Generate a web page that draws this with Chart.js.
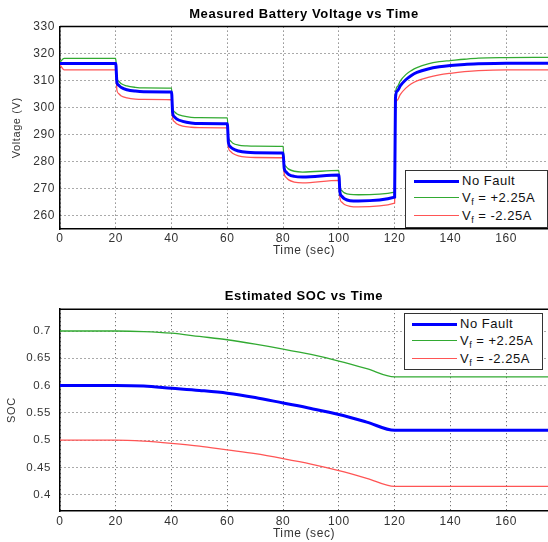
<!DOCTYPE html>
<html>
<head>
<meta charset="utf-8">
<script src="https://cdn.jsdelivr.net/npm/chart.js@4.4.0/dist/chart.umd.min.js"></script>
<style>
  body { margin: 0; background: #fff; width: 548px; height: 542px; overflow: hidden; position: relative;
         font-family: "Liberation Sans", Arial, sans-serif; }
  .plot { position: absolute; left: 0; width: 548px; height: 262px; }
  .legend { position: absolute; background: #fff; border: 1px solid #333; box-sizing: border-box;
            font-size: 13px; color: #111; letter-spacing: 0.5px; }
  .legend .row { position: absolute; left: 0; right: 0; height: 16px; }
  .legend .smp { position: absolute; top: 8px; width: 45px; height: 0; }
  .legend .txt { position: absolute; top: 0; line-height: 16px; white-space: nowrap; }
  .legend sub { font-size: 9px; vertical-align: -3px; line-height: 0; }
</style>
</head>
<body>
<div class="plot" style="top:0"><canvas id="volt" width="548" height="262"></canvas></div>
<div class="plot" style="top:280px"><canvas id="soc" width="548" height="262"></canvas></div>
<div class="legend" id="leg1" style="left:405px;top:170px;width:143px;height:58px"></div>
<div class="legend" id="leg2" style="left:404px;top:313px;width:139px;height:57px"></div>
<script>
// ---- data ----
const seriesNames = ['No Fault', 'V_f = +2.25A', 'V_f = -2.25A'];
const seriesColors = ['#0000ff', 'rgb(50,170,50)', 'rgb(255,85,85)'];
const seriesWidths = [3, 1.3, 1.3];

const timeTicks = [0, 20, 40, 60, 80, 100, 120, 140, 160];
const timeTickLabels = ['0', '20', '40', '60', '80', '100', '120', '140', '160'];
const voltTicks = [260, 270, 280, 290, 300, 310, 320, 330];
const voltTickLabels = ['260', '270', '280', '290', '300', '310', '320', '330'];
const socTicks = [0.4, 0.45, 0.5, 0.55, 0.6, 0.65, 0.7];
const socTickLabels = ['0.4', '0.45', '0.5', '0.55', '0.6', '0.65', '0.7'];

// measured voltage (V)
const voltTime = [0, 1.5, 20, 20.4, 21, 22, 24, 27, 30, 40, 40.4, 41, 42, 44, 47, 50, 60, 60.4, 61, 62, 64, 67, 70,
  80, 80.4, 81, 82, 84, 87, 100, 100.4, 101, 102, 104, 107, 120, 120.3, 121, 122, 124, 126, 128, 132, 136, 140,
  145, 150, 160, 175];
const voltNoFault = [316.3, 316.3, 316.3, 309.5, 308.3, 307.4, 306.6, 306.1, 305.9, 305.8, 298.0, 296.6, 295.7,
  294.9, 294.3, 294.1, 294.0, 287.0, 285.6, 284.7, 283.9, 283.4, 283.3, 283.2, 277.5, 276.2, 275.2, 274.5, 274.3,
  275.0, 268.5, 267.2, 266.2, 265.5, 265.4, 266.8, 303.5, 306.2, 308.0, 310.3, 311.9, 313.0, 314.3, 315.1, 315.6,
  316.0, 316.2, 316.4, 316.4];
const voltPlus = [316.8, 318.2, 318.2, 311.0, 309.8, 308.8, 308.0, 307.5, 307.3, 307.2, 299.8, 298.5, 297.6,
  296.9, 296.4, 296.3, 296.2, 289.0, 287.8, 286.8, 286.1, 285.8, 285.7, 285.6, 279.5, 278.2, 277.2, 276.4, 276.1,
  276.7, 270.5, 269.3, 268.4, 267.8, 267.7, 268.7, 305.0, 307.8, 309.8, 312.2, 313.7, 314.8, 316.2, 317.0, 317.4,
  317.9, 318.3, 318.5, 318.6];
const voltMinus = [315.8, 314.0, 314.0, 306.5, 305.2, 304.3, 303.6, 303.1, 303.0, 302.9, 296.0, 294.8, 293.9,
  293.1, 292.7, 292.6, 292.5, 285.2, 283.9, 283.0, 282.1, 281.6, 281.5, 281.4, 275.5, 274.2, 273.2, 272.4, 272.1,
  273.0, 266.3, 265.0, 264.1, 263.4, 263.2, 264.6, 300.5, 302.8, 304.8, 307.2, 308.8, 309.9, 311.2, 312.1, 312.7,
  313.3, 313.7, 314.0, 314.0];

// estimated SOC
const socTime = [0, 10, 20, 30, 40, 50, 60, 70, 80, 90, 100, 110, 120, 130, 140, 150, 160, 175];
const socNoFault = [0.600, 0.600, 0.600, 0.599, 0.595, 0.591, 0.586, 0.578, 0.568, 0.558, 0.547, 0.533, 0.518,
  0.518, 0.518, 0.518, 0.518, 0.518];
const socPlus = [0.700, 0.700, 0.700, 0.699, 0.696, 0.690, 0.684, 0.676, 0.667, 0.657, 0.645, 0.631, 0.616,
  0.616, 0.616, 0.616, 0.616, 0.616];
const socMinus = [0.500, 0.500, 0.500, 0.498, 0.494, 0.489, 0.482, 0.475, 0.466, 0.456, 0.444, 0.430, 0.415,
  0.415, 0.415, 0.415, 0.415, 0.415];

const FONT = '"Liberation Sans", Arial, sans-serif';

const pairs = (xs, ys) => xs.map((x, i) => ({x: x, y: ys[i]}));

const makeSets = (xs, list) => list.map((ys, i) => ({
  label: seriesNames[i],
  data: pairs(xs, ys),
  borderColor: seriesColors[i],
  borderWidth: seriesWidths[i],
  pointRadius: 0,
  fill: false,
  cubicInterpolationMode: 'monotone'
}));

// solid frame line on top of the plot area, like matlab "box on"
const frame = {
  id: 'frame',
  beforeDraw(chart) { chart.ctx.letterSpacing = '0.6px'; },
  afterDatasetsDraw(chart) {
    const a = chart.chartArea, ctx = chart.ctx;
    ctx.save();
    ctx.strokeStyle = '#000';
    ctx.lineWidth = 1.5;
    ctx.beginPath();
    ctx.moveTo(a.left, a.top);
    ctx.lineTo(a.right, a.top);
    ctx.stroke();
    ctx.restore();
  }
};

const makeChart = (id, o) => new Chart(document.getElementById(id), {
  type: 'line',
  data: {datasets: o.sets},
  plugins: [frame],
  options: {
    responsive: false,
    animation: false,
    layout: {padding: 0},
    plugins: {
      legend: {display: false},
      tooltip: {enabled: false},
      title: {
        display: true, text: o.title, fullSize: false, color: '#000',
        font: {family: FONT, size: 13, weight: 'bold'},
        padding: o.titlePad
      }
    },
    scales: {
      x: {
        type: 'linear', min: 0, max: 175,
        afterBuildTicks: s => { s.ticks = timeTicks.map(v => ({value: v})); },
        afterFit: s => { s.height = o.xHeight; },
        ticks: {
          callback: (v, i) => timeTickLabels[i],
          color: '#333', padding: o.xTickPad, maxRotation: 0,
          font: {family: FONT, size: 12}
        },
        grid: {drawTicks: false, color: '#555', lineWidth: 1},
        border: {color: '#000', width: 1.5, dash: [1, 3]},
        title: {display: true, text: 'Time (sec)', color: '#333',
                font: {family: FONT, size: 12}, padding: {top: 0, bottom: o.xTitlePad}}
      },
      y: {
        min: o.yMin, max: o.yMax,
        afterBuildTicks: s => { s.ticks = o.yTicks.map(v => ({value: v})); },
        afterFit: s => { s.width = 60; },
        ticks: {
          callback: (v, i) => o.yLabels[i],
          color: '#333', padding: o.yTickPad,
          font: {family: FONT, size: o.yFont}
        },
        grid: {drawTicks: false, color: '#555', lineWidth: 1},
        border: {color: '#000', width: 1.5, dash: [1, 3]},
        title: {display: true, text: o.yTitle, color: '#333',
                font: {family: FONT, size: 11}, padding: {top: o.yTitlePad, bottom: 0}}
      }
    }
  }
});

makeChart('volt', {
  sets: makeSets(voltTime, [voltNoFault, voltPlus, voltMinus]),
  title: 'Measured Battery Voltage vs Time',
  titlePad: {top: 7, bottom: 4},
  xHeight: 33, xTickPad: 2, xTitlePad: 4,
  yMin: 255, yMax: 330, yTicks: voltTicks, yLabels: voltTickLabels,
  yTickPad: 5, yFont: 12, yTitle: 'Voltage (V)', yTitlePad: 10
});

makeChart('soc', {
  sets: makeSets(socTime, [socNoFault, socPlus, socMinus]),
  title: 'Estimated SOC vs Time',
  titlePad: {top: 8.8, bottom: 4.8},
  xHeight: 31, xTickPad: 3, xTitlePad: 1.5,
  yMin: 0.37, yMax: 0.74, yTicks: socTicks, yLabels: socTickLabels,
  yTickPad: 9, yFont: 11.5, yTitle: 'SOC', yTitlePad: 5
});

// legends drawn as html so the subscript f stays real text
const rowTops = [2, 19, 37];
const fillLegend = (id, smpLeft, txtLeft) => {
  const box = document.getElementById(id);
  seriesNames.forEach((name, i) => {
    const w = Math.max(seriesWidths[i], 1.5);
    const row = document.createElement('div');
    row.className = 'row';
    row.style.top = rowTops[i] + 'px';
    const smp = document.createElement('div');
    smp.className = 'smp';
    smp.style.left = smpLeft + 'px';
    smp.style.borderTop = w + 'px solid ' + seriesColors[i];
    smp.style.marginTop = (-w / 2) + 'px';
    const txt = document.createElement('div');
    txt.className = 'txt';
    txt.style.left = txtLeft + 'px';
    txt.innerHTML = name.replace('V_f', 'V<sub>f</sub>');
    row.appendChild(smp);
    row.appendChild(txt);
    box.appendChild(row);
  });
};
fillLegend('leg1', 8, 56);
fillLegend('leg2', 7, 55);
</script>
</body>
</html>
